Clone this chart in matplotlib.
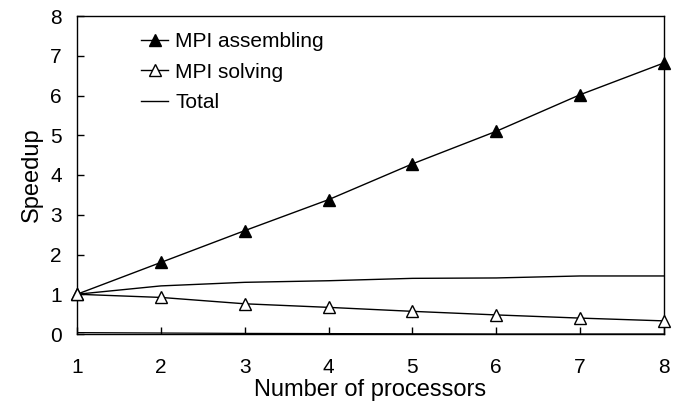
import matplotlib
matplotlib.use("Agg")
import matplotlib.pyplot as plt

plt.rcParams['font.family'] = ['Liberation Sans', 'DejaVu Sans']

processors = [1, 2, 3, 4, 5, 6, 7, 8]
mpi_assembling = [1.0, 1.80, 2.60, 3.38, 4.28, 5.10, 6.02, 6.82]
mpi_solving = [1.0, 0.92, 0.76, 0.67, 0.57, 0.48, 0.40, 0.33]
total = [1.0, 1.21, 1.30, 1.34, 1.40, 1.41, 1.46, 1.46]
bottom_series = [0.035, 0.025, 0.015, 0.01, 0.005, 0.0, 0.0, 0.0]
xticks = [1, 2, 3, 4, 5, 6, 7, 8]
yticks = [0, 1, 2, 3, 4, 5, 6, 7, 8]

fig = plt.figure(figsize=(6.79, 4.05), dpi=100)
ax = fig.add_axes([77/679, 1-334/405, (664-77)/679, (334-16)/405])

ax.plot(processors, bottom_series, color='black', lw=0.9)
ax.plot(processors, mpi_assembling, color='black', lw=1.0, marker='^', ms=8,
        markerfacecolor='black', markeredgecolor='black', label='MPI assembling', clip_on=False, zorder=3)
ax.plot(processors, mpi_solving, color='black', lw=1.0, marker='^', ms=8,
        markerfacecolor='white', markeredgecolor='black', label='MPI solving', clip_on=False, zorder=3)
ax.plot(processors, total, color='black', lw=1.0, label='Total')

ax.set_xlim(1, 8)
ax.set_ylim(0, 8)
ax.set_xticks(xticks)
ax.set_yticks(yticks)
ax.tick_params(direction='in', length=5, width=1.0, labelsize=15)
ax.tick_params(axis='x', pad=17)
ax.tick_params(axis='y', pad=11)
for s in ax.spines.values():
    s.set_linewidth(1.0)

ax.set_xlabel('Number of processors', fontsize=17, labelpad=2)
ax.set_ylabel('Speedup', fontsize=17, labelpad=5)

leg = ax.legend(loc='upper left', bbox_to_anchor=(0.095, 0.975), frameon=False,
                fontsize=15, handlelength=1.3, handletextpad=0.35, labelspacing=0.55,
                borderaxespad=0.0)

fig.savefig('out.png', dpi=100)
